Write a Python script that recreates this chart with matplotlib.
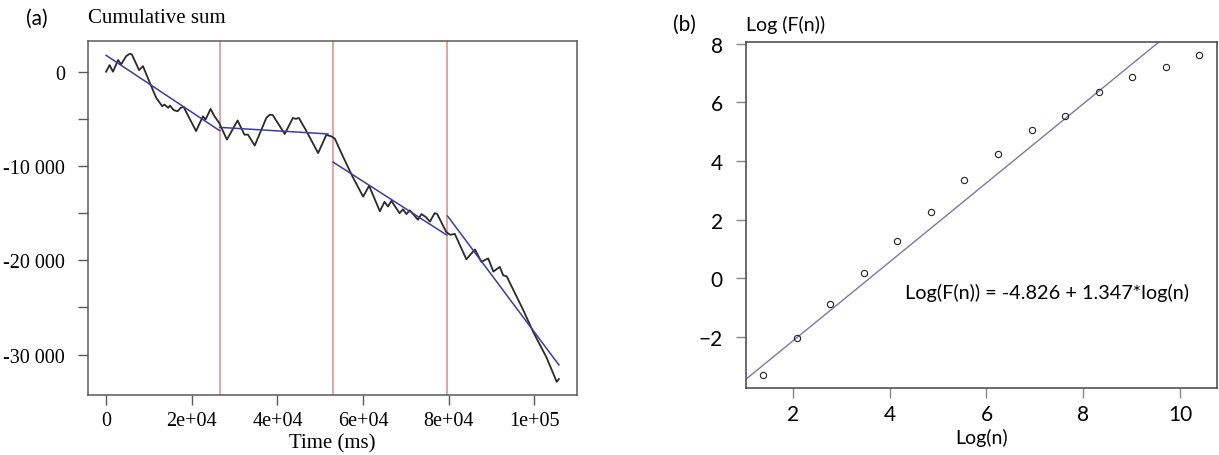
import matplotlib
matplotlib.use("Agg")
import matplotlib.pyplot as plt
import numpy as np

# ---------------- data: panel (a) ----------------
time_ms = [0, 800, 1600, 2800, 3500, 4700, 5500, 6000, 7700, 8600, 10200, 11700,
           13100, 13600, 14500, 14900, 15800, 16700, 17400, 18100, 19000, 21000,
           22600, 23200, 24400, 25300, 26400, 28200, 30700, 32300, 33100, 34700,
           37400, 38200, 38900, 41700, 43600, 44300, 45000, 46800, 49500, 51400,
           52600, 53400, 55200, 57500, 60000, 61400, 63900, 65000, 65800, 66600,
           68500, 69300, 70100, 70900, 72800, 73600, 74600, 75600, 76700, 77300,
           79400, 80300, 81400, 84100, 86100, 87600, 89200, 90400, 91900, 92700,
           93500, 97400, 99700, 102800, 105200, 105700]
cum_sum = [0, 700, 0, 1240, 780, 1660, 1900, 1840, 170, 600, -1170, -2770,
           -3660, -3480, -3830, -3590, -4080, -4190, -3830, -3730, -4540, -6300,
           -4730, -5080, -3940, -4730, -5430, -7200, -5170, -6680, -6670, -7830,
           -4900, -4550, -4600, -6600, -4900, -5000, -4900, -6330, -8630, -6700,
           -6860, -7100, -8900, -11100, -13250, -12100, -14800, -13800, -14300, -13700,
           -15000, -14600, -15100, -14700, -15700, -15100, -15400, -15900, -15000, -15100,
           -17000, -17300, -17200, -19900, -18850, -20170, -19800, -21200, -20700, -21600,
           -21700, -25300, -27600, -30300, -32900, -32600]

breaks_ms = [26500, 53000, 79500]

fit_x0 = [0, 26500, 53000, 79700]
fit_x1 = [26500, 51800, 79500, 105700]
fit_y0 = [1740, -5900, -9590, -15300]
fit_y1 = [-6250, -6600, -17320, -31100]

# ---------------- data: panel (b) ----------------
log_n = [1.386, 2.079, 2.773, 3.466, 4.159, 4.852, 5.545, 6.238, 6.931, 7.624,
         8.318, 9.011, 9.704, 10.397]
log_Fn = [-3.30, -2.03, -0.86, 0.19, 1.27, 2.25, 3.35, 4.25, 5.05, 5.53,
          6.34, 6.85, 7.20, 7.61]
intercept = -4.826
slope = 1.347

serif = "Liberation Serif"
sans = "Lato"

def rlim(v):
    lo, hi = min(v), max(v)
    d = (hi - lo) * 0.04
    return lo - d, hi + d

fig = plt.figure(figsize=(12.19, 4.56), dpi=100)

spine_col = "#5a5a5a"

# ---------------- panel (a) ----------------
ax1 = fig.add_axes([88/1219, 1-396/456, (577-88)/1219, (396-41.7)/456])
ax1.plot(time_ms, cum_sum, color="#2a2a2a", lw=1.3, zorder=3)
for b in breaks_ms:
    ax1.axvline(b, color="#d98c8c", lw=1.1, zorder=1)
for x0, x1, y0, y1 in zip(fit_x0, fit_x1, fit_y0, fit_y1):
    ax1.plot([x0, x1], [y0, y1], color="#3c3ca0", lw=1.1, zorder=4)
ax1.set_xlim(*rlim(time_ms))
ax1.set_ylim(*rlim(cum_sum))
xt = [0, 20000, 40000, 60000, 80000, 100000]
ax1.set_xticks(xt)
ax1.set_xticklabels(["0", "2e+04", "4e+04", "6e+04", "8e+04", "1e+05"],
                    fontfamily=serif, fontsize=14.5)
yt = [-30000, -25000, -20000, -15000, -10000, -5000, 0]
ax1.set_yticks(yt)
ax1.set_yticklabels(["-30 000", "", "-20 000", "", "-10 000", "", "0"],
                    fontfamily=serif, fontsize=14.5)
ax1.tick_params(axis="both", direction="out", length=7.5, width=1, color=spine_col)
ax1.tick_params(axis="y", pad=9)
ax1.tick_params(axis="x", pad=4)
for s in ax1.spines.values():
    s.set_color(spine_col)
    s.set_linewidth(1.1)
ax1.set_xlabel("Time (ms)", fontfamily=serif, fontsize=15, labelpad=2)

fig.text(88/1219, 1-18.5/456, "Cumulative sum", fontfamily=serif, fontsize=15,
         ha="left", va="center")
fig.text(26/1219, 1-19/456, "(a)", fontfamily=sans, fontsize=15,
         ha="left", va="center")

# ---------------- panel (b) ----------------
ax2 = fig.add_axes([745.7/1219, 1-389/456, (1216.7-745.7)/1219, (389-43.3)/456])
ax2.plot(log_n, log_Fn, linestyle="none", marker="o", markersize=4.5,
         markerfacecolor="none", markeredgecolor="#222222", markeredgewidth=0.8,
         zorder=3)
ax2.axline((0, intercept), slope=slope, color="#7a78a8", lw=1.0, zorder=2)
ax2.set_xlim(*rlim(log_n))
ax2.set_ylim(*rlim(log_Fn))
ax2.set_xticks([2, 4, 6, 8, 10])
ax2.set_yticks([-2, 0, 2, 4, 6, 8])
for lab in ax2.get_xticklabels() + ax2.get_yticklabels():
    lab.set_fontfamily(sans)
    lab.set_fontsize(15)
ax2.tick_params(axis="both", direction="out", length=7.5, width=1, color="#888888")
ax2.tick_params(axis="y", pad=9)
ax2.tick_params(axis="x", pad=4)
for s in ax2.spines.values():
    s.set_color("#444444")
    s.set_linewidth(1.1)
ax2.set_xlabel("Log(n)", fontfamily=sans, fontsize=14, labelpad=3)
fig.text(905/1219, 1-293/456, "Log(F(n)) = -4.826 + 1.347*log(n)",
         fontfamily=sans, fontsize=14.3, ha="left", va="center")
fig.text(746/1219, 1-25/456, "Log (F(n))", fontfamily=sans, fontsize=14,
         ha="left", va="center")
fig.text(673/1219, 1-25/456, "(b)", fontfamily=sans, fontsize=15,
         ha="left", va="center")

fig.savefig("out.png", dpi=100, facecolor="white")
